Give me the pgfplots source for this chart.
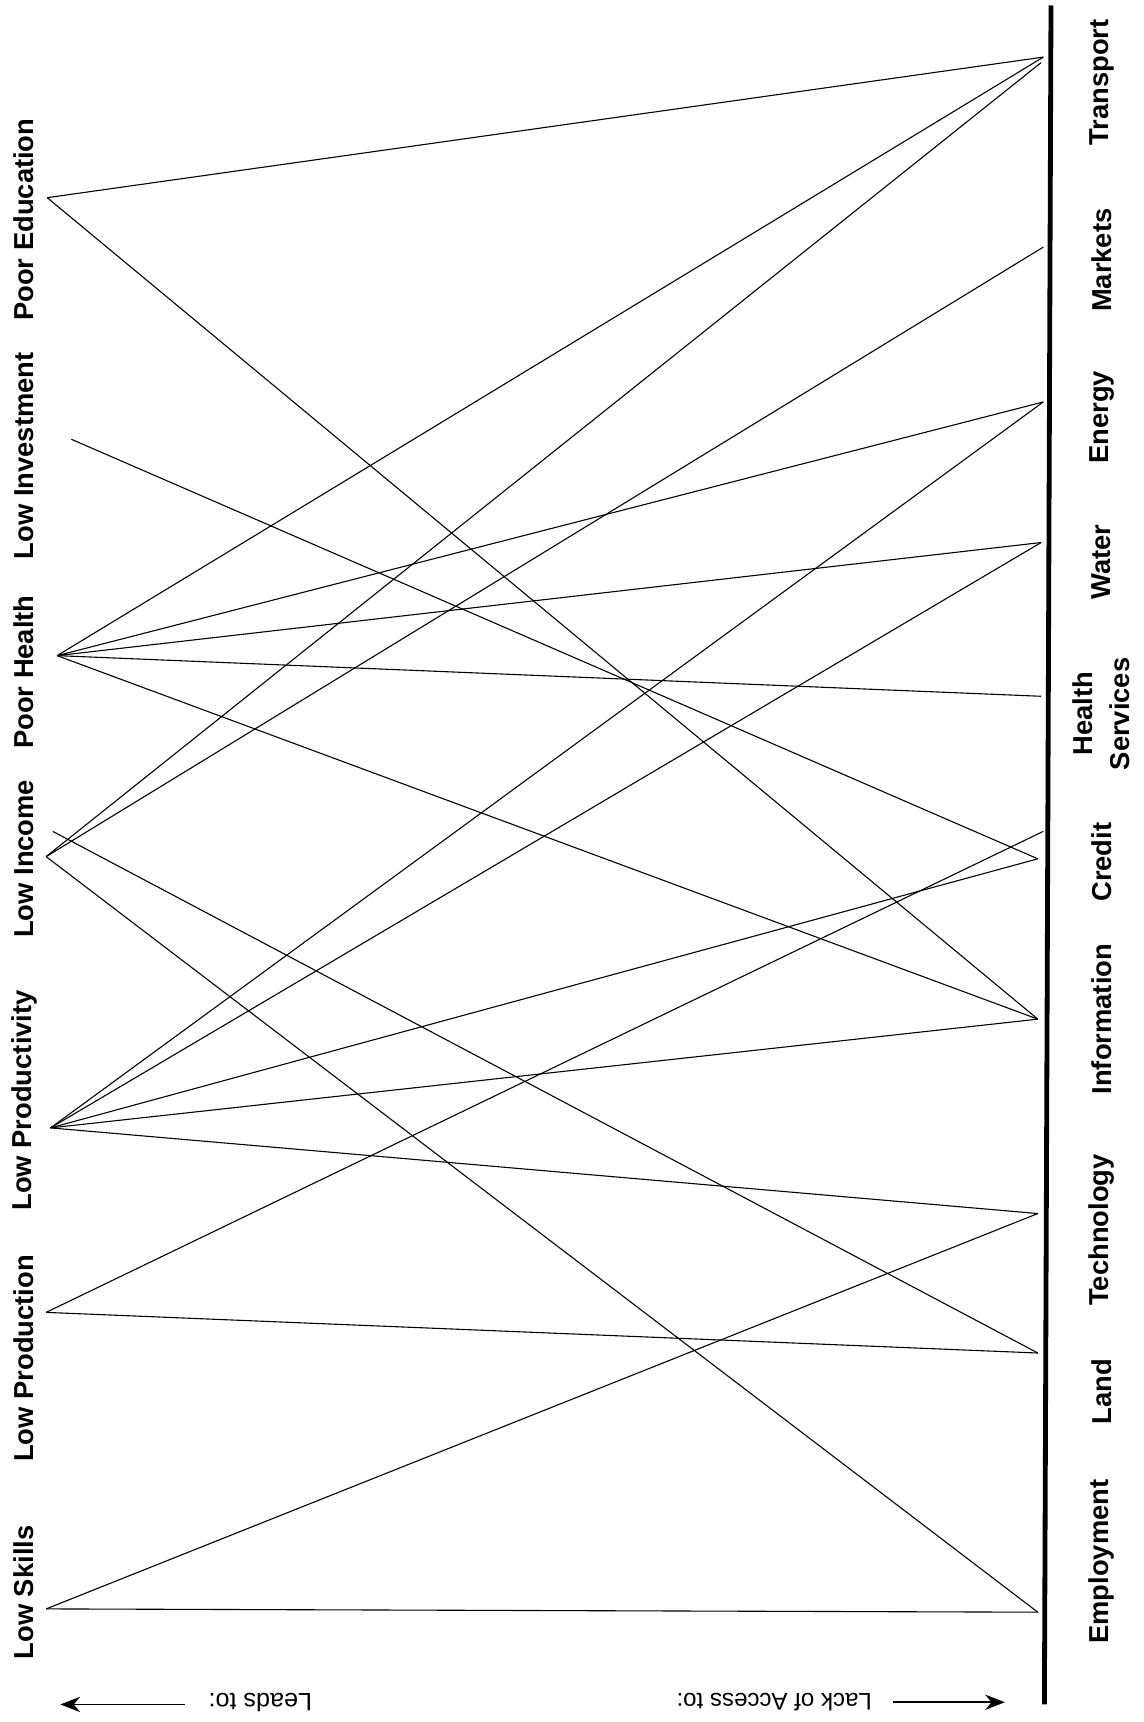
\documentclass[border=0pt]{standalone}
\usepackage{pgfplots}
\pgfplotsset{compat=1.18}
\usetikzlibrary{arrows.meta}
\usepackage{fontspec}
\setmainfont{Liberation Sans}
\setsansfont{Liberation Sans}
\tikzset{lbl/.style={rotate=90, font=\bfseries\fontsize{12.5}{17}\selectfont, align=center}}
\begin{document}
\begin{tikzpicture}
\begin{axis}[
  width=520.5bp, height=784bp, scale only axis,
  xmin=0, xmax=1041, ymin=0, ymax=1568, y dir=reverse,
  hide axis, clip=false,
  ln/.style={black, solid, line width=0.5pt, no marks},
]
\path (axis cs:0,0) rectangle (axis cs:1041,1568);
% thick bar
\addplot[ln, line width=2.2pt] coordinates {(957,5) (951,1552)};
% Poor Education
\addplot[ln] coordinates {(43,180) (950,52)};
\addplot[ln] coordinates {(43,180) (945,928)};
% Low Investment
\addplot[ln] coordinates {(65,400) (945,782)};
% Poor Health
\addplot[ln] coordinates {(52,597) (950,52)};
\addplot[ln] coordinates {(52,597) (950,366)};
\addplot[ln] coordinates {(52,597) (948,494)};
\addplot[ln] coordinates {(52,597) (948,634)};
\addplot[ln] coordinates {(52,597) (945,928)};
% Low Income
\addplot[ln] coordinates {(42,780) (948,57)};
\addplot[ln] coordinates {(42,780) (950,225)};
\addplot[ln] coordinates {(42,780) (945,1468)};
\addplot[ln] coordinates {(48,757) (945,1232)};
% Low Productivity
\addplot[ln] coordinates {(46,1027) (950,366)};
\addplot[ln] coordinates {(46,1027) (948,494)};
\addplot[ln] coordinates {(46,1027) (945,782)};
\addplot[ln] coordinates {(46,1027) (945,928)};
\addplot[ln] coordinates {(46,1027) (945,1105)};
% Low Production
\addplot[ln] coordinates {(42,1195) (950,757)};
\addplot[ln] coordinates {(42,1195) (945,1232)};
% Low Skills
\addplot[ln] coordinates {(42,1465) (945,1105)};
\addplot[ln] coordinates {(42,1465) (945,1468)};
% left labels
\node[lbl] at (axis cs:22,200) {Poor Education};
\node[lbl] at (axis cs:22,415) {Low Investment};
\node[lbl] at (axis cs:22,612) {Poor Health};
\node[lbl] at (axis cs:22,782) {Low Income};
\node[lbl] at (axis cs:22,1002) {Low Productivity};
\node[lbl] at (axis cs:22,1237) {Low Production};
\node[lbl] at (axis cs:22,1450) {Low Skills};
% right labels
\node[lbl] at (axis cs:1003,75) {Transport};
\node[lbl] at (axis cs:1003,237) {Markets};
\node[lbl] at (axis cs:1003,380) {Energy};
\node[lbl] at (axis cs:1003,512) {Water};
\node[lbl] at (axis cs:1003,650) {Health\\Services};
\node[lbl] at (axis cs:1003,785) {Credit};
\node[lbl] at (axis cs:1003,928) {Information};
\node[lbl] at (axis cs:1003,1120) {Technology};
\node[lbl] at (axis cs:1003,1267) {Land};
\node[lbl] at (axis cs:1003,1422) {Employment};
% bottom
\draw[line width=0.8pt, -{Stealth[length=9pt,width=7pt]}] (axis cs:168,1552) -- (axis cs:55,1552);
\node[rotate=180, font=\fontsize{11.5}{13}\selectfont] at (axis cs:237,1550) {Leads to:};
\node[rotate=180, font=\fontsize{11}{13}\selectfont] at (axis cs:705,1550) {Lack of Access to:};
\draw[line width=0.8pt, -{Stealth[length=9pt,width=7pt]}] (axis cs:813,1550) -- (axis cs:915,1550);
\end{axis}
\end{tikzpicture}
\end{document}
